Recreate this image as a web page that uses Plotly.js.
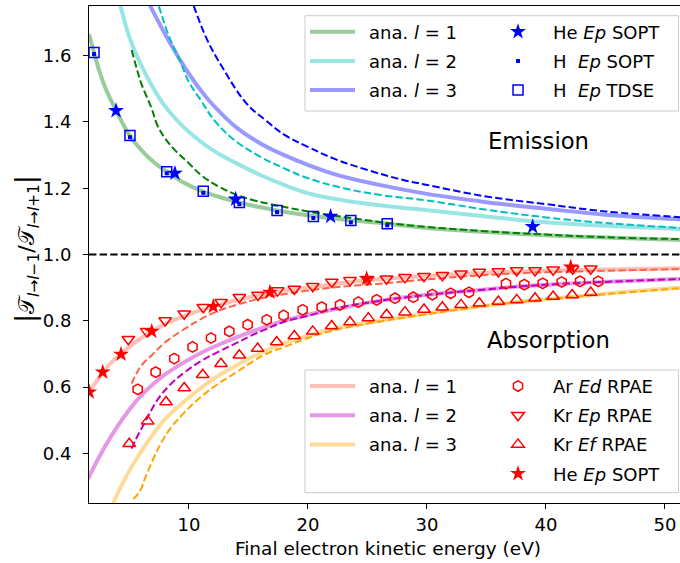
<!DOCTYPE html>
<html>
<head>
<meta charset="utf-8">
<script src="https://cdn.plot.ly/plotly-3.0.1.min.js"></script>
<style>
html, body { margin:0; padding:0; overflow:hidden; background:#fff; }
#chart { width:690px; height:563px; }
</style>
</head>
<body>
<div id="chart"></div>
<script>
// ---------- Emission: analytic (thick) ----------
const emiAnaL1_x = [1.6,2,2.5,3,3.87,5,6,7,8.13,9.5,11.2,12.7,14.23,15.8,17.4,20.45,23.6,26.66,30,35,40,45,51.9];
const emiAnaL1_y = [1.665,1.612,1.55,1.50,1.435,1.36,1.315,1.28,1.25,1.218,1.19,1.172,1.157,1.144,1.133,1.116,1.103,1.093,1.08,1.068,1.058,1.051,1.043];
const emiAnaL2_x = [4.0,4.26,5,6,7,8,9,10,12,14,16,18,20,22.7,25,28.85,35,40,45,51.9];
const emiAnaL2_y = [1.785,1.748,1.655,1.57,1.502,1.447,1.405,1.37,1.315,1.275,1.24,1.21,1.185,1.165,1.153,1.138,1.115,1.097,1.087,1.076];
const emiAnaL3_x = [6.5,6.78,7.5,8.3,9.24,10,11,12,14,16,18,22,26,30,35,40,45,51.9];
const emiAnaL3_y = [1.772,1.748,1.698,1.645,1.588,1.545,1.495,1.452,1.383,1.335,1.30,1.245,1.21,1.183,1.158,1.138,1.12,1.105];
// ---------- Emission: dashed ----------
const emiDashL1_x = [5.18,5.5,6,6.87,7.34,8,8.82,10,11,12.5,14,15.5,17.4,20.45,23.6,26.7,30,35,40,45,51.9];
const emiDashL1_y = [1.617,1.575,1.515,1.44,1.39,1.35,1.315,1.275,1.24,1.205,1.18,1.163,1.148,1.127,1.11,1.095,1.083,1.07,1.06,1.052,1.046];
const emiDashL2_x = [7.2,7.48,8.3,9.24,10,11,12.24,14,16,18,20,23,26,30,35,40,45,51.9];
const emiDashL2_y = [1.78,1.748,1.66,1.585,1.52,1.465,1.40,1.34,1.295,1.26,1.23,1.2,1.18,1.163,1.135,1.112,1.095,1.079];
const emiDashL3_x = [10.1,10.42,11.5,12.8,14.85,16.45,18.07,20,22.13,25,28,30,35,40,45,51.9];
const emiDashL3_y = [1.78,1.748,1.65,1.565,1.455,1.405,1.36,1.325,1.29,1.255,1.225,1.21,1.175,1.152,1.13,1.111];
// ---------- Emission: data ----------
const heEmi_x = [3.87,8.82,13.92,21.9,38.88];
const heEmi_y = [1.434,1.245,1.167,1.115,1.084];
const hTdse_x = [2.02,5.04,8.13,11.2,14.23,17.4,20.45,23.6,26.66];
const hTdse_y = [1.61,1.359,1.25,1.191,1.157,1.133,1.115,1.1025,1.0925];
const hSopt_x = [2.02,5.04,8.13,11.2,14.23,17.4,20.45,23.6,26.66];
const hSopt_y = [1.605,1.354,1.245,1.186,1.152,1.128,1.110,1.097,1.088];

// ---------- Absorption: analytic (thick) ----------
const absAnaL1_x = [1.5,2,2.75,3.5,4.29,5,6,6.87,8,9.5,11,12.04,14,16.8,20,25,30,35,40,45,51.9];
const absAnaL1_y = [0.58,0.605,0.643,0.675,0.70,0.722,0.748,0.768,0.79,0.813,0.832,0.843,0.862,0.884,0.9,0.922,0.935,0.945,0.951,0.955,0.959];
const absAnaL2_x = [1.5,2,3,4,5,5.46,6,7,8,9.66,11,12.46,14,15.5,18,20,22.7,26,30,34.45,38,42.86,51.9];
const absAnaL2_y = [0.322,0.358,0.424,0.482,0.532,0.553,0.575,0.609,0.638,0.676,0.703,0.727,0.75,0.77,0.80,0.818,0.838,0.86,0.878,0.893,0.904,0.914,0.927];
const absAnaL3_x = [3.5,3.64,4,4.5,5.46,6.87,8,9.66,11,12.46,14,15.27,17,18.07,20,22,26.05,30,34.45,38,42.86,47,51.9];
const absAnaL3_y = [0.239,0.25,0.278,0.315,0.376,0.452,0.503,0.558,0.597,0.634,0.666,0.69,0.718,0.733,0.755,0.775,0.80,0.822,0.843,0.858,0.874,0.888,0.901];
// ---------- Absorption: dashed ----------
const absDashL1_x = [5.18,5.5,6,6.87,8,9.66,11,12.46,14,15.82,18.07,22,26.05,30,34.45,38,42.86,51.9];
const absDashL1_y = [0.61,0.635,0.665,0.696,0.735,0.776,0.805,0.83,0.848,0.866,0.881,0.9,0.912,0.925,0.937,0.944,0.949,0.957];
const absDashL2_x = [5.18,5.5,6.3,7.42,8.5,9.66,11,12.46,14,15.27,16.5,18.07,20,22,26,30,34.45,38,42.86,51.9];
const absDashL2_y = [0.414,0.44,0.494,0.565,0.61,0.645,0.678,0.706,0.733,0.756,0.775,0.798,0.815,0.835,0.86,0.878,0.893,0.904,0.914,0.927];
const absDashL3_x = [5.32,5.6,6,6.3,7,7.7,8.5,9.66,11,12.46,14,15.27,16.5,18.07,20,22,26.05,30,34.45,38,42.86,51.9];
const absDashL3_y = [0.262,0.272,0.295,0.324,0.383,0.434,0.478,0.525,0.57,0.61,0.645,0.675,0.70,0.722,0.748,0.77,0.798,0.82,0.843,0.858,0.874,0.9];
// ---------- Absorption: data ----------
const arEd_x = [5.69,7.2,8.76,10.3,11.85,13.39,14.93,16.53,17.95,19.55,21.15,22.69,24.23,25.77,27.31,28.85,30.45,31.99,33.53,36.64,38.18,39.72,41.32,42.86,44.39];
const arEd_y = [0.593,0.645,0.686,0.721,0.748,0.768,0.788,0.803,0.816,0.833,0.841,0.848,0.856,0.863,0.868,0.871,0.879,0.883,0.886,0.912,0.909,0.913,0.917,0.919,0.919];
const krEp_x = [4.9,6.45,8.0,9.6,11.2,12.7,14.23,15.8,17.45,18.85,20.4,22.0,23.53,25.0,26.6,28.15,29.75,31.3,32.86,34.4,36.0,37.54,39.08,40.6,42.24,43.76];
const krEp_y = [0.744,0.768,0.801,0.821,0.841,0.856,0.871,0.878,0.891,0.896,0.904,0.917,0.922,0.925,0.927,0.931,0.934,0.937,0.942,0.947,0.949,0.952,0.952,0.954,0.957,0.957];
const krEf_x = [4.98,6.53,8.07,9.6,11.15,12.69,14.23,15.77,17.37,18.85,20.4,21.99,23.53,25.07,26.61,28.15,29.75,31.29,32.86,34.4,36.0,37.54,39.08,40.6,42.2,43.76];
const krEf_y = [0.429,0.497,0.555,0.597,0.637,0.670,0.696,0.716,0.736,0.754,0.768,0.784,0.796,0.808,0.818,0.826,0.834,0.841,0.848,0.853,0.858,0.863,0.868,0.873,0.878,0.885];
const heAbs_x = [1.62,2.75,4.29,6.87,12.04,16.8,24.93,42.08];
const heAbs_y = [0.585,0.645,0.699,0.768,0.843,0.886,0.927,0.962];

// ---------- labels ----------
const anaNames = ['\u2002ana. <i>l</i> = 1','\u2002ana. <i>l</i> = 2','\u2002ana. <i>l</i> = 3'];
const emiMarkNames = ['He <i>Ep</i> SOPT','H\u00a0\u00a0<i>Ep</i> SOPT','H\u00a0\u00a0<i>Ep</i> TDSE'];
const absMarkNames = ['Ar <i>Ed</i> RPAE','Kr <i>Ep</i> RPAE','Kr <i>Ef</i> RPAE','He <i>Ep</i> SOPT'];
const xTitle = 'Final electron kinetic energy (eV)';
const yTitle = '<span style="font-size:27px">|</span>𝒯<sub><i>l</i>→<i>l</i>−1</sub>/𝒯<sub><i>l</i>→<i>l</i>+1</sub><span style="font-size:27px">|</span>';
const emissionLabel = 'Emission';
const absorptionLabel = 'Absorption';

const FONT = 'DejaVu Sans';
const DASH = '7.4px,3.2px';
const sp = {shape:'spline', smoothing:1.1};

function thick(x, y, color, name, legend, rank) {
  return {x, y, type:'scatter', mode:'lines', name, legend, legendgroup:legend+name, legendrank:rank,
          line:Object.assign({color, width:4}, sp), hoverinfo:'skip'};
}
function dashed(x, y, color) {
  return {x, y, type:'scatter', mode:'lines', showlegend:false,
          line:Object.assign({color, width:2, dash:DASH}, sp), hoverinfo:'skip'};
}
function pts(x, y, symbol, size, color, name, legend, rank, open) {
  return {x, y, type:'scatter', mode:'markers', name, legend, legendgroup:legend+name, legendrank:rank,
          marker:{symbol, size, color: open ? 'rgba(0,0,0,0)' : color, line:{color, width: open ? 1.5 : 0}},
          hoverinfo:'skip'};
}

const data = [
  thick(emiAnaL1_x, emiAnaL1_y, '#99cc99', anaNames[0], 'legend', 1),
  thick(emiAnaL2_x, emiAnaL2_y, '#99e5e5', anaNames[1], 'legend', 2),
  thick(emiAnaL3_x, emiAnaL3_y, '#9999ff', anaNames[2], 'legend', 3),
  thick(absAnaL1_x, absAnaL1_y, '#ffc1b5', anaNames[0], 'legend3', 1),
  thick(absAnaL2_x, absAnaL2_y, '#e599e5', anaNames[1], 'legend3', 2),
  thick(absAnaL3_x, absAnaL3_y, '#ffdb99', anaNames[2], 'legend3', 3),
  dashed(emiDashL1_x, emiDashL1_y, '#008000'),
  dashed(emiDashL2_x, emiDashL2_y, '#00bfbf'),
  dashed(emiDashL3_x, emiDashL3_y, '#0000ff'),
  dashed(absDashL1_x, absDashL1_y, '#ff6347'),
  dashed(absDashL2_x, absDashL2_y, '#bf00bf'),
  dashed(absDashL3_x, absDashL3_y, '#ffa500'),
  pts(hTdse_x, hTdse_y, 'square', 10, '#0000ff', emiMarkNames[2], 'legend2', 3, true),
  pts(hSopt_x, hSopt_y, 'square', 4, '#0000ff', emiMarkNames[1], 'legend2', 2, false),
  pts(heEmi_x, heEmi_y, 'star', 12, '#0000ff', emiMarkNames[0], 'legend2', 1, false),
  pts(arEd_x, arEd_y, 'hexagon', 10.5, '#ff0000', absMarkNames[0], 'legend4', 1, true),
  pts(krEp_x, krEp_y, 'triangle-down', 11, '#ff0000', absMarkNames[1], 'legend4', 2, true),
  pts(krEf_x, krEf_y, 'triangle-up', 11, '#ff0000', absMarkNames[2], 'legend4', 3, true),
  pts(heAbs_x, heAbs_y, 'star', 12, '#ff0000', absMarkNames[3], 'legend4', 4, false)
];

const legBase = {bgcolor:'rgba(0,0,0,0)', borderwidth:0, font:{family:FONT, size:18, color:'#000'},
  orientation:'v', traceorder:'grouped', tracegroupgap:2.8, xanchor:'left', yanchor:'top'};

const axBase = {showline:true, linecolor:'#000', linewidth:1, mirror:true, ticks:'outside', ticklen:5,
  tickwidth:1, tickcolor:'#000', showgrid:false, zeroline:false, automargin:false,
  tickfont:{family:FONT, size:18, color:'#000'}};

const layout = {
  width:690, height:563,
  margin:{l:89, r:3, t:6, b:60, pad:0},
  paper_bgcolor:'#fff', plot_bgcolor:'#fff',
  font:{family:FONT, color:'#000'},
  xaxis:Object.assign({}, axBase, {range:[1.597, 51.85], tickvals:[10,20,30,40,50],
     title:{text:xTitle, font:{family:FONT, size:18.5, color:'#000'}, standoff:8}}),
  yaxis:Object.assign({}, axBase, {range:[0.25, 1.75], tickvals:[0.4,0.6,0.8,1.0,1.2,1.4,1.6], tickformat:'.1f',
     ticklabelstandoff:8}),
  legend:Object.assign({}, legBase, {x:0.3612, y:0.9849, itemwidth:45}),
  legend2:Object.assign({}, legBase, {x:0.6589, y:0.9849, itemwidth:60}),
  legend3:Object.assign({}, legBase, {x:0.3612, y:0.272, itemwidth:45}),
  legend4:Object.assign({}, legBase, {x:0.6589, y:0.272, itemwidth:60}),
  shapes:[
    {type:'rect', xref:'paper', yref:'paper', x0:0.3612, x1:0.9858, y0:0.7887, y1:0.9805,
     line:{color:'#cccccc', width:1}, fillcolor:'#ffffff', layer:'below'},
    {type:'rect', xref:'paper', yref:'paper', x0:0.3612, x1:0.9858, y0:0.0207, y1:0.2676,
     line:{color:'#cccccc', width:1}, fillcolor:'#ffffff', layer:'below'},
    {type:'line', xref:'paper', yref:'y', x0:0, x1:1, y0:1.0, y1:1.0,
     line:{color:'#000', width:2, dash:DASH}, layer:'above'}
  ],
  annotations:[
    {text:yTitle, xref:'paper', yref:'paper', x:-0.1054, y:0.511, textangle:-90, showarrow:false,
     font:{family:FONT, size:22, color:'#000'}, xanchor:'center', yanchor:'middle'},
    {text:emissionLabel, x:39.33, y:1.344, xref:'x', yref:'y', showarrow:false,
     font:{family:FONT, size:22.7, color:'#000'}, xanchor:'center', yanchor:'middle'},
    {text:absorptionLabel, x:40.25, y:0.741, xref:'x', yref:'y', showarrow:false,
     font:{family:FONT, size:22.7, color:'#000'}, xanchor:'center', yanchor:'middle'}
  ]
};

Plotly.newPlot('chart', data, layout, {displayModeBar:false, staticPlot:true});
</script>
</body>
</html>
